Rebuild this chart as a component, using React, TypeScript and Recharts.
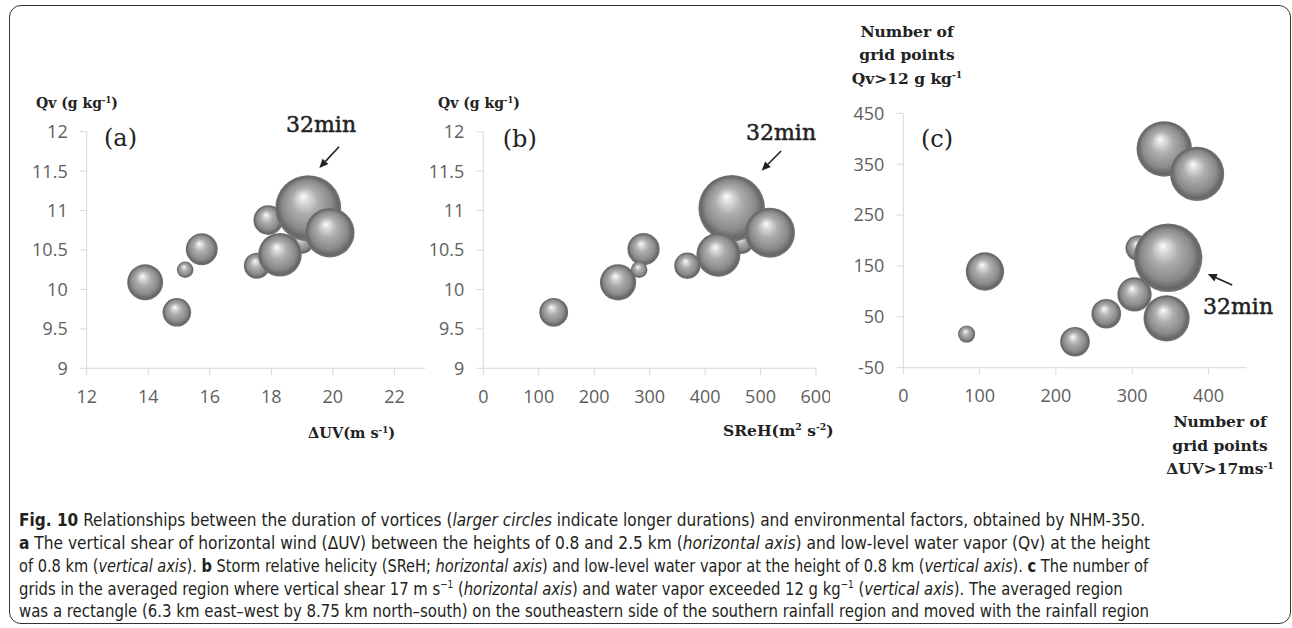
import React, { useLayoutEffect, useRef, useState } from 'react';
import { ScatterChart, Scatter, XAxis, YAxis, ZAxis, ReferenceLine } from 'recharts';

// vortices, listed in back-to-front drawing order (panels a and b share them)
const durationsAB = [4, 6.5, 32, 18, 5, 14, 7.5, 2, 9.5, 6];
const shearA = [19.0, 17.9, 19.2, 19.9, 17.53, 18.28, 15.74, 15.2, 13.9, 14.93];
const qvAB = [10.6, 10.88, 11.03, 10.72, 10.3, 10.44, 10.51, 10.25, 10.09, 9.71];
const srehB = [466, 445, 448, 517, 368, 424, 289, 281, 243, 127];

// panel c
const durationsC = [4.5, 32, 21, 20, 14.5, 10, 8, 6, 6, 2];
const gridShearC = [308, 347, 342, 385, 345, 107, 303, 266, 225, 83];
const gridQvC = [185, 166, 380, 331, 47, 139, 94, 56, 1, 16];

const ticksShear = [12, 14, 16, 18, 20, 22];
const ticksSreh = [0, 100, 200, 300, 400, 500, 600];
const ticksGridX = [0, 100, 200, 300, 400];
const ticksQv = [9, 9.5, 10, 10.5, 11, 11.5, 12];
const ticksGridY = [-50, 50, 150, 250, 350, 450];

// "32min" arrows, in data coordinates (tail, head)
const arrowA = [{ x: 20.2, y: 11.81 }, { x: 19.56, y: 11.54 }];
const arrowB = [{ x: 537, y: 11.755 }, { x: 502, y: 11.506 }];
const arrowC = [{ x: 431, y: 112.5 }, { x: 399, y: 134 }];

const toPoints = (xs: number[], ys: number[], ds: number[]) =>
  xs.map((x, i) => ({ x, y: ys[i], d: ds[i] }));

const dataA = toPoints(shearA, qvAB, durationsAB);
const dataB = toPoints(srehB, qvAB, durationsAB);
const dataC = toPoints(gridShearC, gridQvC, durationsC);

const axisGray = '#d9d9d9';
const tickStyle = { fill: '#606060', fontSize: 18, fontFamily: '"Open Sans", sans-serif' };
const serif = '"DejaVu Serif", serif';

const Sphere = (props: any) => {
  const { cx, cy, width, size } = props;
  const r = width ? width / 2 : Math.sqrt((size || 0) / Math.PI);
  return <circle cx={cx} cy={cy} r={r} fill="url(#sphereFill)" />;
};

const Arrow = (props: any) => {
  const { x1, y1, x2, y2 } = props;
  const a = Math.atan2(y2 - y1, x2 - x1);
  const len = 9;
  const w = 4;
  const bx = x2 - len * Math.cos(a);
  const by = y2 - len * Math.sin(a);
  const p1 = `${bx + w * Math.sin(a)},${by - w * Math.cos(a)}`;
  const p2 = `${bx - w * Math.sin(a)},${by + w * Math.cos(a)}`;
  return (
    <g>
      <line x1={x1} y1={y1} x2={bx} y2={by} stroke="#222" strokeWidth={1.6} />
      <polygon points={`${x2},${y2} ${p1} ${p2}`} fill="#222" />
    </g>
  );
};

interface PanelProps {
  left: number;
  width: number;
  height: number;
  margin: { top: number; right: number; bottom: number; left: number };
  yWidth: number;
  xDomain: [number, number];
  xTicks: number[];
  yDomain: [number, number];
  yTicks: number[];
  data: { x: number; y: number; d: number }[];
  maxArea: number;
  arrow: { x: number; y: number }[];
}

const Panel = (p: PanelProps) => (
  <div style={{ position: 'absolute', left: p.left, top: 0 }}>
    <ScatterChart width={p.width} height={p.height} margin={p.margin}>
      <XAxis
        type="number"
        dataKey="x"
        domain={p.xDomain}
        ticks={p.xTicks}
        height={40}
        tickSize={7}
        tickMargin={15}
        tick={tickStyle}
        axisLine={{ stroke: axisGray }}
        tickLine={{ stroke: axisGray }}
        interval={0}
      />
      <YAxis
        type="number"
        dataKey="y"
        domain={p.yDomain}
        ticks={p.yTicks}
        width={p.yWidth}
        tickSize={7}
        tickMargin={12}
        tick={tickStyle}
        axisLine={{ stroke: axisGray }}
        tickLine={{ stroke: axisGray }}
        interval={0}
      />
      <ZAxis type="number" dataKey="d" domain={[0, 32]} range={[0, p.maxArea]} />
      <Scatter data={p.data} shape={Sphere} isAnimationActive={false} />
      <ReferenceLine segment={p.arrow} shape={Arrow} />
    </ScatterChart>
  </div>
);

const Sup = ({ children }: { children: React.ReactNode }) => (
  <span style={{ fontSize: '0.6em', position: 'relative', top: '-0.6em' }}>{children}</span>
);

const Txt = ({ x, y, size, weight, stroke, children }: any) => (
  <div
    style={{
      position: 'absolute',
      left: x,
      top: y,
      transform: 'translateY(-50%)',
      fontFamily: serif,
      fontSize: size,
      fontWeight: weight || 'normal',
      lineHeight: 1,
      whiteSpace: 'nowrap',
      color: '#222',
      WebkitTextStroke: stroke ? `${stroke}px #222` : undefined,
    }}
  >
    {children}
  </div>
);

const CenterBlock = ({ cx, top, lh, children }: any) => (
  <div
    style={{
      position: 'absolute',
      left: cx - 100,
      width: 200,
      top,
      textAlign: 'center',
      fontFamily: serif,
      fontSize: 15.5,
      fontWeight: 'bold',
      lineHeight: `${lh}px`,
      whiteSpace: 'nowrap',
      color: '#222',
    }}
  >
    {children}
  </div>
);

const captionFont = '"Liberation Sans Narrow", "DejaVu Sans Condensed", "Arial Narrow", sans-serif';

// caption lines are squeezed to the widths they have in the printed figure
const CaptionLine = ({ target, children }: { target: number; children: React.ReactNode }) => {
  const ref = useRef<HTMLSpanElement>(null);
  const [s, setS] = useState(1);
  useLayoutEffect(() => {
    const w = ref.current ? ref.current.offsetWidth : 0;
    if (w) setS(target / w);
  }, [target]);
  return (
    <div style={{ height: 22.75 }}>
      <span
        ref={ref}
        style={{ display: 'inline-block', transform: `scaleX(${s})`, transformOrigin: 'left center' }}
      >
        {children}
      </span>
    </div>
  );
};

export default function App() {
  return (
    <div
      style={{
        position: 'absolute',
        left: 0,
        top: 0,
        width: 1292,
        height: 628,
        background: '#fff',
        overflow: 'hidden',
      }}
    >
      <svg width={0} height={0} style={{ position: 'absolute' }}>
        <defs>
          <radialGradient id="sphereFill" cx="50%" cy="50%" r="50%" fx="42%" fy="32%">
            <stop offset="0%" stopColor="#ffffff" />
            <stop offset="10%" stopColor="#e6e6e6" />
            <stop offset="40%" stopColor="#adadad" />
            <stop offset="75%" stopColor="#8a8a8a" />
            <stop offset="92%" stopColor="#666666" />
            <stop offset="100%" stopColor="#777777" />
          </radialGradient>
        </defs>
      </svg>

      <div
        style={{
          position: 'absolute',
          left: 9,
          top: 5,
          width: 1282,
          height: 619,
          border: '1.5px solid #333',
          borderRadius: 12,
          boxSizing: 'border-box',
        }}
      />

      <Panel
        left={0}
        width={440}
        height={420}
        margin={{ top: 131.7, right: 14.8, bottom: 11.7, left: 0 }}
        yWidth={86.7}
        xDomain={[12, 23]}
        xTicks={ticksShear}
        yDomain={[9, 12]}
        yTicks={ticksQv}
        data={dataA}
        maxArea={3421}
        arrow={arrowA}
      />
      <Panel
        left={430}
        width={400}
        height={420}
        margin={{ top: 131.7, right: 14, bottom: 11.7, left: 0 }}
        yWidth={53.3}
        xDomain={[0, 600]}
        xTicks={ticksSreh}
        yDomain={[9, 12]}
        yTicks={ticksQv}
        data={dataB}
        maxArea={3484}
        arrow={arrowB}
      />
      <Panel
        left={850}
        width={420}
        height={420}
        margin={{ top: 113.3, right: 23.3, bottom: 12.3, left: 0 }}
        yWidth={53.3}
        xDomain={[0, 450]}
        xTicks={ticksGridX}
        yDomain={[-50, 450]}
        yTicks={ticksGridY}
        data={dataC}
        maxArea={3696}
        arrow={arrowC}
      />

      <Txt x={36} y={103} size={14} weight="bold">
        Qv (g kg<Sup>-1</Sup>)
      </Txt>
      <Txt x={438} y={103} size={14} weight="bold">
        Qv (g kg<Sup>-1</Sup>)
      </Txt>
      <Txt x={104} y={138} size={24}>(a)</Txt>
      <Txt x={502.7} y={139} size={24}>(b)</Txt>
      <Txt x={921} y={139.3} size={24}>(c)</Txt>
      <Txt x={286} y={125} size={22} stroke={0.5}>32min</Txt>
      <Txt x={746} y={133} size={22} stroke={0.5}>32min</Txt>
      <Txt x={1203} y={306.7} size={22} stroke={0.5}>32min</Txt>
      <Txt x={308} y={433} size={14.5} weight="bold">
        ΔUV(m s<Sup>-1</Sup>)
      </Txt>
      <Txt x={723} y={431} size={15.5} weight="bold">
        SReH(m<Sup>2</Sup> s<Sup>-2</Sup>)
      </Txt>

      <CenterBlock cx={907} top={20} lh={23.3}>
        <div>Number of</div>
        <div>grid points</div>
        <div>
          Qv&gt;12 g kg<Sup>-1</Sup>
        </div>
      </CenterBlock>
      <CenterBlock cx={1220} top={409.8} lh={23.8}>
        <div>Number of</div>
        <div>grid points</div>
        <div>
          ΔUV&gt;17ms<Sup>-1</Sup>
        </div>
      </CenterBlock>

      <div
        style={{
          position: 'absolute',
          left: 19,
          top: 509.3,
          fontFamily: captionFont,
          fontSize: 18,
          lineHeight: '22.75px',
          color: '#231f20',
          whiteSpace: 'nowrap',
        }}
      >
        <CaptionLine target={1126}>
          <b>Fig. 10</b> Relationships between the duration of vortices (<i>larger circles</i> indicate longer
          durations) and environmental factors, obtained by NHM-350.
        </CaptionLine>
        <CaptionLine target={1131}>
          <b>a</b> The vertical shear of horizontal wind (ΔUV) between the heights of 0.8 and 2.5 km (
          <i>horizontal axis</i>) and low-level water vapor (Qv) at the height
        </CaptionLine>
        <CaptionLine target={1129}>
          of 0.8 km (<i>vertical axis</i>). <b>b</b> Storm relative helicity (SReH; <i>horizontal axis</i>) and
          low-level water vapor at the height of 0.8 km (<i>vertical axis</i>). <b>c</b> The number of
        </CaptionLine>
        <CaptionLine target={1104}>
          grids in the averaged region where vertical shear 17 m s<Sup>−1</Sup> (<i>horizontal axis</i>) and water
          vapor exceeded 12 g kg<Sup>−1</Sup> (<i>vertical axis</i>). The averaged region
        </CaptionLine>
        <CaptionLine target={1130}>
          was a rectangle (6.3 km east–west by 8.75 km north–south) on the southeastern side of the southern
          rainfall region and moved with the rainfall region
        </CaptionLine>
      </div>
    </div>
  );
}
